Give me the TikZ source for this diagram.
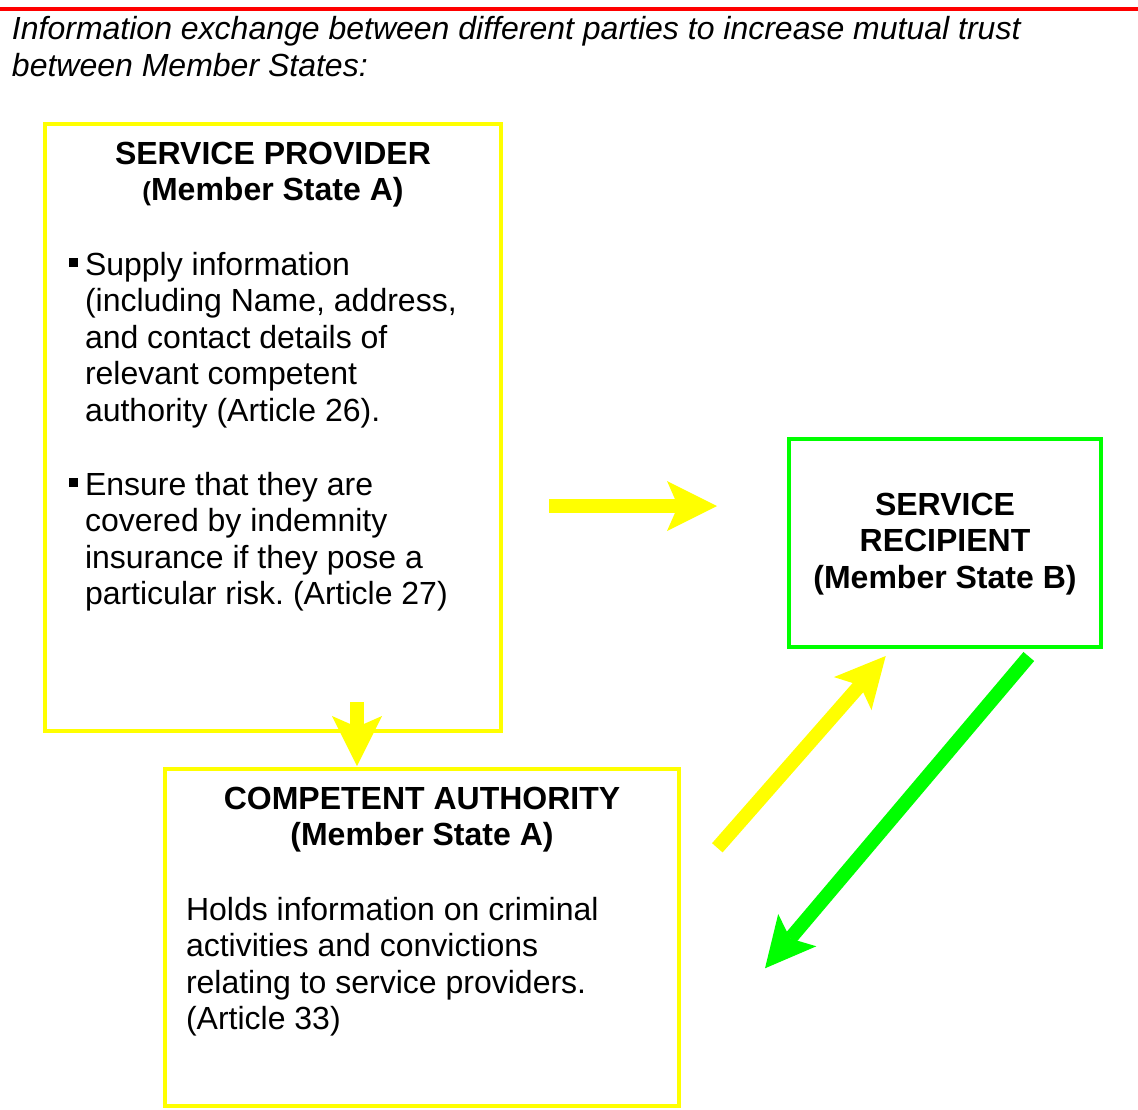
\documentclass[tikz,border=0pt]{standalone}
\usepackage{fontspec}
\setmainfont{Liberation Sans}
\usetikzlibrary{arrows.meta}
\frenchspacing
\definecolor{ylw}{RGB}{255,255,0}
\definecolor{grn}{RGB}{0,255,0}
\definecolor{rd}{RGB}{255,0,0}
\newcommand\mlines[2]{\begin{tabular}[t]{@{}#1@{}}#2\end{tabular}}
\newcommand\sqbul{\llap{\rule[8pt]{9pt}{9pt}\hspace{7pt}}}
\tikzset{
  box/.style={draw, line width=3.5pt, inner sep=0pt, fill=none},
  txt/.style={inner sep=0pt, outer sep=0pt, font=\fontsize{32}{36.5}\selectfont},
  bigarrow/.style={line width=14pt, line cap=butt,
    -{Stealth[length=50pt,width=50pt,inset=11pt,line width=0pt]}}
}
\begin{document}
\begin{tikzpicture}[x=1pt,y=-1pt]
\useasboundingbox (0,0) rectangle (1138,1109);
% red rule
\draw[rd, line width=4pt] (0,9) -- (1138,9);
% title
\node[txt, anchor=base west, font=\fontsize{32}{36.5}\selectfont\itshape] (title) at (12,39.5)
  {\mlines{l}{Information exchange between different parties to increase mutual trust\\between Member States:}};
% boxes
\node[box, draw=ylw, minimum width=456pt, minimum height=607pt] (prov) at (273,427.5) {};
\node[box, draw=ylw, minimum width=514pt, minimum height=337pt] (auth) at (422,937.5) {};
\node[box, draw=grn, minimum width=312pt, minimum height=208pt] (recip) at (945,543) {};
% box 1 text
\node[txt, anchor=base] (provh) at (273,164)
  {\bfseries\mlines{c}{SERVICE PROVIDER\\{\fontsize{26}{30}\selectfont(}Member State A)}};
\node[txt, anchor=base west] (provb1) at (85,275)
  {\mlines{l}{\sqbul Supply information\\(including Name, address,\\and contact details of\\relevant competent\\authority (Article 26).}};
\node[txt, anchor=base west] (provb2) at (85,495)
  {\mlines{l}{\sqbul Ensure that they are\\covered by indemnity\\insurance if they pose a\\particular risk. (Article 27)}};
% box 2 text
\node[txt, anchor=base] (authh) at (422,809)
  {\bfseries\mlines{c}{COMPETENT AUTHORITY\\(Member State A)}};
\node[txt, anchor=base west] (authb) at (186,920)
  {\mlines{l}{Holds information on criminal\\activities and convictions\\relating to service providers.\\(Article 33)}};
% box 3 text
\node[txt, anchor=base] (reciph) at (945,515)
  {\bfseries\mlines{c}{SERVICE\\RECIPIENT\\(Member State B)}};
% arrow end points
\coordinate (a1s) at (549,506);
\coordinate (a1e) at (717,506);
\coordinate (a2s) at (357,702);
\coordinate (a2e) at (357,766);
\coordinate (a3s) at (717.3,847.8);
\coordinate (a3e) at (885.7,656);
\coordinate (a4s) at (1028.8,656.5);
\coordinate (a4e) at (765,968.3);
% arrows
\draw[bigarrow, ylw] (a1s) -- (a1e);
\draw[bigarrow, ylw] (a2s) -- (a2e);
\draw[bigarrow, ylw] (a3s) -- (a3e);
\draw[bigarrow, grn] (a4s) -- (a4e);
\end{tikzpicture}
\end{document}
